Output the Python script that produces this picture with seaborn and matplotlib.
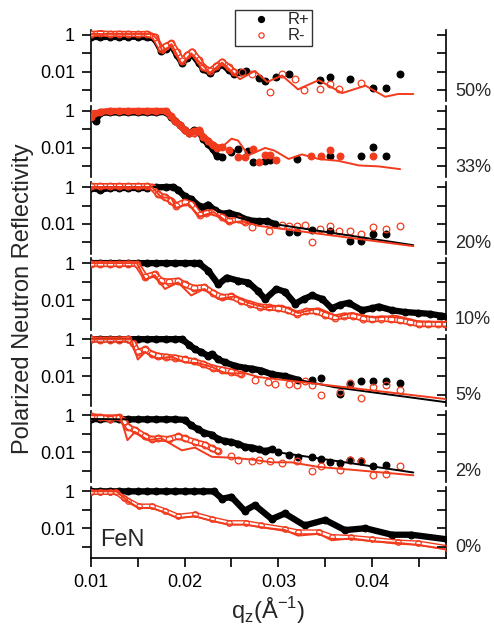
import numpy as np
import pandas as pd
import matplotlib
matplotlib.use('Agg')
import matplotlib.pyplot as plt
import seaborn as sns
from matplotlib.lines import Line2D
from matplotlib.ticker import FixedLocator, FixedFormatter, NullLocator
import matplotlib.transforms as mtransforms

# values are log10(R); "run" = dense data, "pts" = scattered data

# ---- 50% ----
Q50_R = [0.0100, 0.0110, 0.0120, 0.0130, 0.0140, 0.0150, 0.0160, 0.0168, 0.0175, 0.0180, 0.0186,
         0.0192, 0.0197, 0.0203, 0.0208, 0.0215, 0.0220, 0.0227, 0.0234, 0.0240, 0.0247, 0.0253]
L50_PR = [-0.10, -0.12, -0.10, -0.12, -0.10, -0.10, -0.12, -0.20, -0.85, -0.75, -0.60,
          -1.10, -1.50, -1.25, -1.05, -1.50, -1.85, -2.05, -1.80, -1.60, -1.90, -2.10]
L50_MR = [0.05, 0.08, 0.05, 0.06, 0.05, 0.04, 0.05, -0.10, -0.75, -0.60, -0.45,
          -0.95, -1.40, -1.10, -0.90, -1.35, -1.75, -1.95, -1.70, -1.45, -1.75, -2.00]
Q50_PP = [0.0259, 0.0265, 0.0279, 0.0286, 0.0298, 0.0311, 0.0344, 0.0355, 0.0377, 0.0401, 0.0415, 0.0430]
L50_PP = [-2.00, -1.95, -2.35, -2.50, -2.30, -2.10, -2.45, -2.30, -2.40, -2.90, -2.90, -2.10]
Q50_MP = [0.0261, 0.0272, 0.0291, 0.0304, 0.0318, 0.0327, 0.0344, 0.0355, 0.0365, 0.0388]
L50_MP = [-2.00, -2.10, -3.10, -2.10, -2.40, -3.00, -2.95, -2.65, -2.95, -2.60]
Q50_FM = [0.0100, 0.0165, 0.0172, 0.0177, 0.0186, 0.0197, 0.0207, 0.0227, 0.0240, 0.0259, 0.0275,
          0.0288, 0.0304, 0.0321, 0.0343, 0.0368, 0.0393, 0.0414, 0.0428, 0.0444]
L50_FM = [0.05, 0.05, -0.30, -1.00, -0.50, -1.60, -1.00, -2.05, -1.50, -2.40, -1.95,
          -2.55, -2.20, -2.95, -2.45, -3.15, -2.75, -3.35, -3.20, -3.20]

# ---- 33% ----
Q33_PR = [0.0100, 0.0105, 0.0110, 0.0120, 0.0130, 0.0140, 0.0150, 0.0160, 0.0170, 0.0180, 0.0185,
          0.0190, 0.0195, 0.0200, 0.0205, 0.0210, 0.0215, 0.0220, 0.0225, 0.0230, 0.0235, 0.0240]
L33_PR = [-0.30, -0.55, -0.10, -0.08, -0.08, -0.08, -0.08, -0.08, -0.08, -0.05, -0.30,
          -0.55, -0.75, -1.05, -1.20, -1.05, -1.10, -1.50, -1.80, -2.05, -2.45, -2.50]
Q33_PP = [0.0250, 0.0257, 0.0268, 0.0273, 0.0286, 0.0291, 0.0320, 0.0355, 0.0388, 0.0401, 0.0415]
L33_PP = [-2.20, -2.05, -2.15, -2.75, -2.70, -2.65, -2.60, -2.45, -2.45, -1.95, -2.45]
Q33_MR = [0.0100, 0.0110, 0.0120, 0.0130, 0.0140, 0.0150, 0.0160, 0.0170, 0.0180, 0.0185, 0.0190,
          0.0195, 0.0200, 0.0205, 0.0210, 0.0215, 0.0220, 0.0225, 0.0230, 0.0235, 0.0240]
L33_MR = [-0.30, -0.05, 0.00, 0.00, 0.00, 0.00, 0.00, 0.00, 0.00, -0.25, -0.55,
          -0.75, -1.05, -1.20, -1.10, -1.05, -1.40, -1.60, -1.85, -2.00, -1.95]
Q33_MP = [0.0247, 0.0257, 0.0264, 0.0273, 0.0279, 0.0286, 0.0291, 0.0298, 0.0335, 0.0345, 0.0355, 0.0366, 0.0401]
L33_MP = [-2.10, -2.50, -2.50, -2.05, -2.75, -2.40, -2.40, -2.65, -2.45, -2.45, -2.10, -2.45, -2.45]
Q33_FM = [0.0100, 0.0181, 0.0190, 0.0200, 0.0211, 0.0218, 0.0229, 0.0240, 0.0250, 0.0257, 0.0268,
          0.0286, 0.0296, 0.0311, 0.0325, 0.0343, 0.0364, 0.0386, 0.0407, 0.0430]
L33_FM = [0.00, 0.00, -0.60, -1.15, -1.40, -1.15, -1.70, -1.95, -1.50, -1.60, -2.40,
          -2.00, -2.15, -2.60, -2.35, -2.60, -2.70, -2.95, -3.00, -3.15]

# ---- 20% ----
Q20_PR = [0.0100, 0.0110, 0.0120, 0.0130, 0.0140, 0.0150, 0.0160, 0.0170, 0.0180, 0.0188, 0.0193, 0.0200,
          0.0207, 0.0215, 0.0220, 0.0225, 0.0232, 0.0240, 0.0247, 0.0257, 0.0268, 0.0279, 0.0288, 0.0296]
L20_PR = [-0.05, -0.15, -0.05, -0.05, -0.05, -0.05, -0.05, -0.02, 0.00, 0.00, -0.15, -0.50,
          -0.65, -1.00, -1.10, -0.95, -1.25, -1.45, -1.40, -1.55, -1.80, -1.85, -1.85, -2.00]
Q20_PP = [0.0311, 0.0320, 0.0336, 0.0355, 0.0377, 0.0388, 0.0401, 0.0415]
L20_PP = [-2.45, -2.45, -2.30, -2.40, -2.90, -2.90, -2.55, -2.55]
Q20_MR = [0.0100, 0.0110, 0.0120, 0.0130, 0.0140, 0.0150, 0.0160, 0.0165, 0.0172, 0.0179, 0.0186,
          0.0191, 0.0200, 0.0207, 0.0216, 0.0223, 0.0231, 0.0240, 0.0247, 0.0257, 0.0264]
L20_MR = [0.05, 0.05, 0.05, 0.05, 0.05, 0.05, 0.05, 0.00, -0.40, -0.55, -0.75,
          -1.00, -0.80, -0.90, -1.50, -1.40, -1.35, -1.60, -1.85, -1.75, -1.90]
Q20_MP = [0.0272, 0.0290, 0.0304, 0.0311, 0.0320, 0.0328, 0.0336, 0.0344, 0.0355, 0.0365, 0.0377,
          0.0388, 0.0401, 0.0415, 0.0430]
L20_MP = [-2.15, -2.40, -2.05, -2.10, -2.10, -2.05, -2.95, -2.25, -2.10, -2.40, -2.40,
          -2.55, -2.15, -2.25, -2.10]
Q20_FP = [0.0100, 0.0183, 0.0193, 0.0200, 0.0211, 0.0218, 0.0225, 0.0236, 0.0247, 0.0257, 0.0268, 0.0282, 0.0444]
L20_FP = [0.00, 0.00, -0.25, -0.55, -0.75, -1.10, -0.95, -1.35, -1.40, -1.65, -1.80, -1.90, -3.15]
Q20_FM = [0.0100, 0.0165, 0.0175, 0.0186, 0.0191, 0.0204, 0.0216, 0.0231, 0.0247, 0.0261, 0.0279, 0.0444]
L20_FM = [0.00, 0.00, -0.55, -0.60, -1.15, -0.90, -1.60, -1.35, -1.95, -1.85, -2.10, -3.20]

# ---- 10% ----
Q10_PR = [0.0100, 0.0110, 0.0120, 0.0130, 0.0140, 0.0150, 0.0160, 0.0170, 0.0180, 0.0190, 0.0200, 0.0210,
          0.0215, 0.0225, 0.0236, 0.0245, 0.0257, 0.0268, 0.0278, 0.0286, 0.0298, 0.0307, 0.0318, 0.0327,
          0.0336, 0.0347, 0.0357, 0.0366, 0.0375, 0.0389, 0.0400, 0.0407, 0.0421, 0.0435, 0.0449, 0.0462,
          0.0474, 0.0482]
L10_PR = [0.00, 0.00, 0.00, 0.00, 0.00, 0.00, 0.00, 0.00, 0.00, 0.00, 0.00, 0.00,
          0.00, -0.40, -1.15, -0.78, -0.95, -1.05, -1.50, -1.95, -1.40, -1.55, -2.20, -1.95,
          -1.75, -1.95, -2.45, -2.25, -2.15, -2.55, -2.45, -2.35, -2.55, -2.65, -2.70, -2.75,
          -2.85, -2.90]
Q10_MR = [0.0100, 0.0110, 0.0120, 0.0130, 0.0140, 0.0149, 0.0158, 0.0168, 0.0175, 0.0183, 0.0193, 0.0200,
          0.0210, 0.0221, 0.0230, 0.0240, 0.0250, 0.0260, 0.0270, 0.0280, 0.0290, 0.0300, 0.0310, 0.0320,
          0.0330, 0.0340, 0.0350, 0.0360, 0.0370, 0.0380, 0.0390, 0.0400, 0.0410, 0.0420, 0.0430, 0.0440,
          0.0450, 0.0460, 0.0470, 0.0478]
L10_MR = [-0.05, -0.05, -0.05, -0.05, -0.03, -0.05, -0.75, -0.60, -0.95, -1.00, -0.95, -1.15,
          -1.35, -1.30, -1.60, -1.85, -1.80, -2.05, -2.20, -2.35, -2.40, -2.45, -2.55, -2.75,
          -2.60, -2.60, -2.80, -2.95, -2.85, -2.85, -3.00, -3.05, -3.00, -3.05, -3.10, -3.20,
          -3.30, -3.30, -3.30, -3.30]
Q10_FM = [0.0100, 0.0149, 0.0158, 0.0168, 0.0179, 0.0193, 0.0207, 0.0221, 0.0236, 0.0254, 0.0268,
          0.0286, 0.0304, 0.0321, 0.0343, 0.0364, 0.0378, 0.0403, 0.0425, 0.0449, 0.0480]
L10_FM = [0.00, 0.00, -0.90, -0.65, -1.40, -1.05, -1.75, -1.40, -1.95, -1.80, -2.15,
          -2.40, -2.30, -2.70, -2.45, -2.90, -2.70, -2.95, -2.85, -3.15, -3.20]

# ---- 5% ----
Q5_PR = [0.0100, 0.0110, 0.0120, 0.0130, 0.0140, 0.0150, 0.0160, 0.0170, 0.0180, 0.0190, 0.0197, 0.0205,
         0.0211, 0.0218, 0.0225, 0.0229, 0.0236, 0.0243, 0.0254, 0.0264, 0.0272, 0.0282, 0.0293, 0.0307, 0.0321]
L5_PR = [0.00, 0.00, 0.00, 0.00, 0.00, 0.00, 0.00, 0.00, 0.00, 0.00, 0.00, -0.30,
         -0.55, -0.70, -0.90, -0.80, -1.10, -1.25, -1.45, -1.55, -1.60, -1.70, -1.90, -2.00, -2.20]
Q5_PP = [0.0336, 0.0345, 0.0366, 0.0377, 0.0388, 0.0401, 0.0415, 0.0430]
L5_PP = [-2.20, -2.10, -2.95, -2.45, -2.25, -2.25, -2.25, -2.35]
Q5_MR = [0.0100, 0.0110, 0.0120, 0.0130, 0.0140, 0.0145, 0.0150, 0.0158, 0.0165, 0.0172, 0.0180,
         0.0190, 0.0200, 0.0210, 0.0220, 0.0230, 0.0240, 0.0250, 0.0260]
L5_MR = [0.00, -0.03, -0.02, -0.02, 0.00, -0.20, -0.70, -0.55, -0.80, -0.90, -0.95,
         -1.00, -1.10, -1.20, -1.35, -1.55, -1.65, -1.75, -1.90]
Q5_MP = [0.0275, 0.0289, 0.0296, 0.0311, 0.0320, 0.0328, 0.0336, 0.0345, 0.0366, 0.0377, 0.0388,
         0.0401, 0.0415, 0.0430]
L5_MP = [-2.20, -2.30, -2.40, -2.40, -2.50, -2.25, -2.50, -3.00, -2.85, -2.35, -3.20,
         -2.60, -2.50, -2.75]
Q5_FP = [0.0100, 0.0197, 0.0211, 0.0229, 0.0254, 0.0282, 0.0307, 0.0360, 0.0480]
L5_FP = [0.00, 0.00, -0.55, -0.85, -1.45, -1.75, -2.05, -2.60, -3.42]
Q5_FM = [0.0100, 0.0143, 0.0150, 0.0158, 0.0170, 0.0186, 0.0200, 0.0215, 0.0229, 0.0243, 0.0265, 0.0279, 0.0480]
L5_FM = [0.00, 0.00, -1.10, -0.70, -1.05, -0.95, -1.25, -1.30, -1.50, -1.85, -1.85, -2.05, -3.25]

# ---- 2% ----
Q2_PR = [0.0100, 0.0110, 0.0120, 0.0130, 0.0140, 0.0150, 0.0160, 0.0170, 0.0180, 0.0190, 0.0200, 0.0207,
         0.0214, 0.0221, 0.0229, 0.0236, 0.0243, 0.0250, 0.0257, 0.0264, 0.0272, 0.0279, 0.0286, 0.0293]
L2_PR = [-0.20, -0.22, -0.20, -0.22, -0.22, -0.22, -0.22, -0.22, -0.22, -0.22, -0.25, -0.55,
         -0.75, -0.95, -1.05, -1.30, -1.40, -1.45, -1.55, -1.70, -1.75, -1.85, -1.95, -1.85]
Q2_PP = [0.0300, 0.0311, 0.0321, 0.0336, 0.0345, 0.0355, 0.0366, 0.0377, 0.0388, 0.0401, 0.0415]
L2_PP = [-2.00, -2.15, -2.25, -2.25, -2.35, -2.55, -2.60, -2.45, -2.50, -2.75, -2.70]
Q2_MR = [0.0100, 0.0110, 0.0120, 0.0130, 0.0135, 0.0140, 0.0147, 0.0158, 0.0165, 0.0172, 0.0183,
         0.0193, 0.0200, 0.0211, 0.0222, 0.0229, 0.0236]
L2_MR = [-0.05, -0.10, -0.20, -0.10, -0.30, -0.65, -0.80, -1.15, -1.30, -1.25, -1.30,
         -1.15, -1.25, -1.45, -1.60, -1.80, -1.95]
Q2_MP = [0.0250, 0.0257, 0.0272, 0.0279, 0.0291, 0.0304, 0.0320, 0.0336, 0.0345, 0.0366, 0.0377,
         0.0388, 0.0401, 0.0415, 0.0430]
L2_MP = [-2.20, -2.40, -2.50, -2.40, -2.50, -2.60, -2.50, -3.00, -2.75, -2.95, -2.40,
         -2.50, -3.25, -3.20, -2.75]
Q2_FP = [0.0100, 0.0133, 0.0200, 0.0207, 0.0221, 0.0236, 0.0257, 0.0279, 0.0444]
L2_FP = [-0.20, -0.22, -0.25, -0.55, -0.95, -1.30, -1.55, -1.85, -3.10]
Q2_FM = [0.0100, 0.0131, 0.0139, 0.0147, 0.0161, 0.0175, 0.0197, 0.0211, 0.0229, 0.0250, 0.0272,
         0.0293, 0.0314, 0.0343, 0.0378, 0.0444]
L2_FM = [0.00, 0.00, -1.35, -0.90, -1.35, -1.25, -1.90, -1.75, -2.25, -2.30, -2.40,
         -2.55, -2.55, -2.80, -2.95, -3.25]

# ---- 0% ----
Q0_PR = [0.0100, 0.0110, 0.0120, 0.0130, 0.0140, 0.0150, 0.0160, 0.0170, 0.0180, 0.0190, 0.0200, 0.0210,
         0.0220, 0.0231, 0.0240, 0.0250, 0.0264, 0.0275, 0.0293, 0.0307, 0.0328, 0.0350, 0.0371, 0.0393,
         0.0421, 0.0442, 0.0480]
L0_PR = [0.00, 0.00, 0.00, 0.00, 0.00, 0.00, 0.00, 0.00, 0.00, 0.00, 0.00, 0.00,
         0.00, 0.00, -0.40, -0.30, -1.05, -0.75, -1.50, -1.20, -1.85, -1.55, -2.10, -2.00,
         -2.35, -2.35, -2.60]
Q0_MR = [0.0100, 0.0110, 0.0120, 0.0127, 0.0135, 0.0140, 0.0151, 0.0165, 0.0179, 0.0193, 0.0211, 0.0229,
         0.0247, 0.0265, 0.0282, 0.0307, 0.0321, 0.0343, 0.0357, 0.0378, 0.0400, 0.0428, 0.0449, 0.0480]
L0_MR = [-0.05, -0.05, -0.05, -0.05, -0.35, -0.50, -0.80, -0.80, -1.05, -1.35, -1.25, -1.50,
         -1.70, -1.70, -1.85, -2.05, -2.20, -2.20, -2.45, -2.50, -2.60, -2.75, -2.80, -3.05]
Q0_FM = [0.0100, 0.0127, 0.0140, 0.0151, 0.0165, 0.0179, 0.0193, 0.0211, 0.0229, 0.0247, 0.0265,
         0.0282, 0.0307, 0.0321, 0.0343, 0.0357, 0.0378, 0.0400, 0.0428, 0.0449, 0.0480]
L0_FM = [0.00, 0.00, -0.55, -0.90, -0.90, -1.15, -1.45, -1.35, -1.60, -1.80, -1.80,
         -1.95, -2.10, -2.40, -2.30, -2.65, -2.55, -2.70, -2.80, -2.90, -3.15]

PANEL_LABELS = ['50%', '33%', '20%', '10%', '5%', '2%', '0%']
X_TICKS = [0.01, 0.02, 0.03, 0.04]
X_MINOR = [0.015, 0.025, 0.035, 0.045]

PANELS = [
    dict(plus_run=(Q50_R, L50_PR), plus_pts=(Q50_PP, L50_PP), minus_run=(Q50_R, L50_MR),
         minus_pts=(Q50_MP, L50_MP), fit_plus=None, fit_minus=(Q50_FM, L50_FM), red_filled=False),
    dict(plus_run=(Q33_PR, L33_PR), plus_pts=(Q33_PP, L33_PP), minus_run=(Q33_MR, L33_MR),
         minus_pts=(Q33_MP, L33_MP), fit_plus=None, fit_minus=(Q33_FM, L33_FM), red_filled=True),
    dict(plus_run=(Q20_PR, L20_PR), plus_pts=(Q20_PP, L20_PP), minus_run=(Q20_MR, L20_MR),
         minus_pts=(Q20_MP, L20_MP), fit_plus=(Q20_FP, L20_FP), fit_minus=(Q20_FM, L20_FM), red_filled=False),
    dict(plus_run=(Q10_PR, L10_PR), plus_pts=None, minus_run=(Q10_MR, L10_MR),
         minus_pts=None, fit_plus=None, fit_minus=(Q10_FM, L10_FM), red_filled=False),
    dict(plus_run=(Q5_PR, L5_PR), plus_pts=(Q5_PP, L5_PP), minus_run=(Q5_MR, L5_MR),
         minus_pts=(Q5_MP, L5_MP), fit_plus=(Q5_FP, L5_FP), fit_minus=(Q5_FM, L5_FM), red_filled=False),
    dict(plus_run=(Q2_PR, L2_PR), plus_pts=(Q2_PP, L2_PP), minus_run=(Q2_MR, L2_MR),
         minus_pts=(Q2_MP, L2_MP), fit_plus=(Q2_FP, L2_FP), fit_minus=(Q2_FM, L2_FM), red_filled=False),
    dict(plus_run=(Q0_PR, L0_PR), plus_pts=None, minus_run=(Q0_MR, L0_MR),
         minus_pts=None, fit_plus=None, fit_minus=(Q0_FM, L0_FM), red_filled=False),
]

RED = '#f23b1d'
BLACK = '#000000'
Y_MIN, Y_MAX = 10 ** -3.6, 10 ** 0.25
MS = 4.8


def frame(q, lg):
    return pd.DataFrame({'q': q, 'R': np.power(10.0, lg)})


def draw_line(ax, series, color, lw, z):
    sns.lineplot(data=frame(*series), x='q', y='R', ax=ax, color=color, lw=lw,
                 estimator=None, sort=False, legend=False, zorder=z)


def draw_marks(ax, series, color, filled, z, ms=MS):
    sns.lineplot(data=frame(*series), x='q', y='R', ax=ax, color=color, linestyle='',
                 marker='o', markersize=ms, markerfacecolor=color if filled else 'none',
                 markeredgecolor=color, markeredgewidth=0.9,
                 estimator=None, sort=False, legend=False, zorder=z)


def draw_run(ax, series, color, filled, z, ms=MS):
    # dense measured points: overlapping markers read as one band
    draw_line(ax, series, color, ms * 0.95, z)
    if not filled:
        draw_line(ax, series, 'white', ms * 0.45, z)
    draw_marks(ax, series, color, filled, z, ms)


sns.set_theme(style='ticks')
plt.rcParams['font.family'] = ['Liberation Sans', 'DejaVu Sans']
plt.rcParams['mathtext.fontset'] = 'custom'
plt.rcParams['mathtext.rm'] = 'Liberation Sans'

fig = plt.figure(figsize=(4.94, 6.31), dpi=100)
gs = fig.add_gridspec(7, 1, left=0.184, right=0.903, top=0.952, bottom=0.116, hspace=0.07)
axes = []
for i in range(7):
    ax = fig.add_subplot(gs[i], sharex=axes[0] if axes else None)
    axes.append(ax)

for i, (ax, p, label) in enumerate(zip(axes, PANELS, PANEL_LABELS)):
    ax.set_yscale('log')
    ms_red = MS if i < 6 else 4.0
    draw_run(ax, p['plus_run'], BLACK, True, 2)
    if p['plus_pts']:
        draw_marks(ax, p['plus_pts'], BLACK, True, 2)
    draw_run(ax, p['minus_run'], RED, p['red_filled'], 3, ms_red)
    if p['minus_pts']:
        draw_marks(ax, p['minus_pts'], RED, p['red_filled'], 3)
    if p['fit_plus']:
        draw_line(ax, p['fit_plus'], BLACK, 1.4, 4)
    draw_line(ax, p['fit_minus'], RED, 1.4, 5)

    ax.set_ylim(Y_MIN, Y_MAX)
    ax.set_xlim(0.010, 0.0479)
    ax.set_xlabel('')
    ax.set_ylabel('')
    ax.yaxis.set_major_locator(FixedLocator([1e-3, 1e-2, 1e-1, 1.0]))
    ax.yaxis.set_major_formatter(FixedFormatter(['', '0.01', '', '1']))
    ax.yaxis.set_minor_locator(NullLocator())
    ax.tick_params(axis='y', direction='out', length=6.5, width=1.2, labelsize=13, pad=5, colors='black')
    for side in ('left', 'right'):
        ax.spines[side].set_linewidth(1.2)
        ax.spines[side].set_color('black')
    ax.spines['top'].set_visible(False)
    ax.spines['bottom'].set_visible(i == 6)

    # right-hand ticks point inward
    tw = ax.twinx()
    tw.set_yscale('log')
    tw.set_ylim(Y_MIN, Y_MAX)
    tw.yaxis.set_major_locator(FixedLocator([1e-3, 1e-2, 1e-1, 1.0]))
    tw.yaxis.set_minor_locator(NullLocator())
    tw.tick_params(axis='y', direction='in', length=6.5, width=1.2, labelright=False, colors='black')
    for s in tw.spines.values():
        s.set_visible(False)

    trans = mtransforms.blended_transform_factory(ax.transAxes, ax.transData)
    ax.text(1.025, 10 ** -3.05, label, transform=trans, ha='left', va='center', fontsize=13)

    if i < 6:
        ax.tick_params(axis='x', which='both', bottom=False, labelbottom=False)

last = axes[-1]
last.xaxis.set_major_locator(FixedLocator(X_TICKS))
last.xaxis.set_major_formatter(FixedFormatter(['0.01', '0.02', '0.03', '0.04']))
last.xaxis.set_minor_locator(FixedLocator(X_MINOR))
last.tick_params(axis='x', which='both', direction='out', length=6.5, width=1.2,
                 labelsize=13, pad=5, colors='black')
last.spines['bottom'].set_linewidth(1.2)
last.spines['bottom'].set_color('black')
last.text(0.025, 0.25, 'FeN', transform=last.transAxes, ha='left', va='center', fontsize=17)

fig.text(0.046, 0.526, 'Polarized Neutron Reflectivity', rotation=90,
         ha='center', va='center', fontsize=17)
fig.text(0.5435, 0.032, r'q$_\mathregular{z}$(Å$^\mathregular{-1}$)', ha='center', va='center', fontsize=17)

handles = [
    Line2D([], [], linestyle='', marker='o', markersize=4.2, color=BLACK),
    Line2D([], [], linestyle='', marker='o', markersize=3.8, markerfacecolor='none',
           markeredgecolor=RED, markeredgewidth=0.9),
]
leg = fig.legend(handles, ['R+', 'R-'], loc='upper left', bbox_to_anchor=(235 / 494, 1 - 10 / 631),
                 frameon=True, fancybox=False, edgecolor='#333333', fontsize=12,
                 labelspacing=0.05, borderpad=0.15, handlelength=2.8, handletextpad=0.2,
                 borderaxespad=0.0, framealpha=1.0)
leg.get_frame().set_linewidth(1.0)

fig.savefig('out.png', dpi=100)
